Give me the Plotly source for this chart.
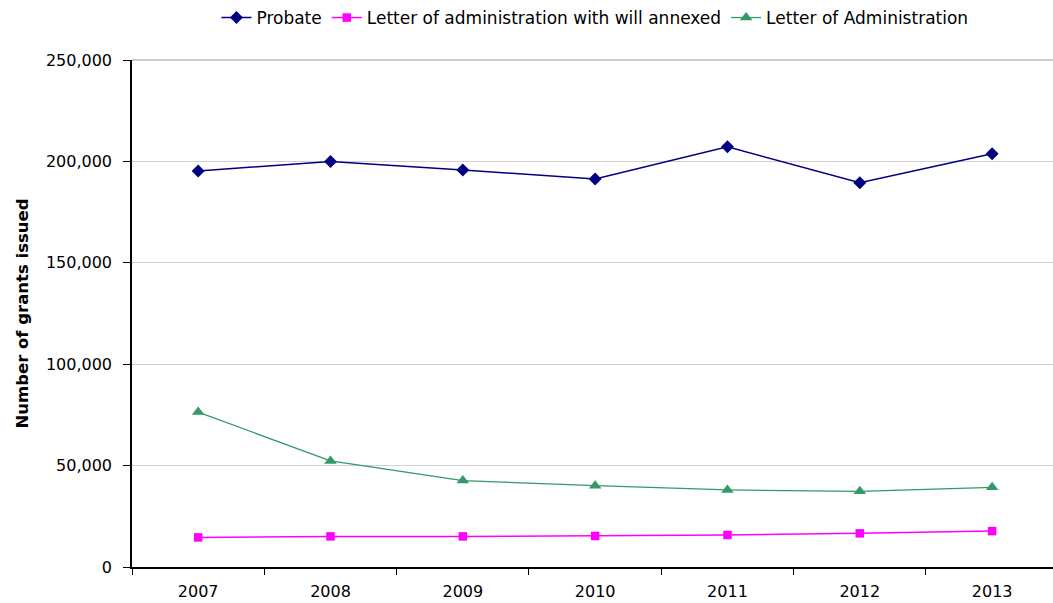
import plotly.graph_objects as go

years = ["2007", "2008", "2009", "2010", "2011", "2012", "2013"]
probate = [195300, 199900, 195800, 191300, 207200, 189500, 203800]
will_annexed = [14600, 15100, 15100, 15300, 15800, 16600, 17700]
letter_admin = [76400, 52300, 42600, 40100, 38000, 37300, 39300]

FONT = "DejaVu Sans, Arial, sans-serif"

fig = go.Figure()
fig.add_trace(go.Scatter(
    x=years, y=probate, name="Probate", mode="lines+markers",
    line=dict(color="#000080", width=1.5),
    marker=dict(symbol="diamond", size=10, color="#000080"),
))
fig.add_trace(go.Scatter(
    x=years, y=will_annexed, name="Letter of administration with will annexed",
    mode="lines+markers",
    line=dict(color="#FF00FF", width=1.5),
    marker=dict(symbol="square", size=8.5, color="#FF00FF"),
))
fig.add_trace(go.Scatter(
    x=years, y=letter_admin, name="Letter of Administration", mode="lines+markers",
    line=dict(color="#339966", width=1.3),
    marker=dict(symbol="triangle-up", size=11, color="#339966"),
))

# light top border of the plot area
fig.add_shape(type="line", xref="paper", yref="paper", x0=0, x1=1, y0=1, y1=1,
              line=dict(color="#9a9a9a", width=1.2))

fig.update_layout(
    width=1053, height=603,
    margin=dict(l=132, r=0, t=60, b=36),
    paper_bgcolor="white", plot_bgcolor="white",
    font=dict(family=FONT, size=16, color="#000000"),
    showlegend=True,
    legend=dict(
        orientation="h", xref="container", yref="container",
        x=0.565, xanchor="center", y=1.0, yanchor="top",
        font=dict(size=17), itemwidth=30,
        bgcolor="rgba(0,0,0,0)",
    ),
    xaxis=dict(
        type="category", range=[-0.5, 6.46],
        showline=True, linecolor="#000000", linewidth=1.5,
        ticks="outside", tickson="boundaries", ticklen=6, tickcolor="#000000",
        ticklabelstandoff=9,
        showgrid=False, tickfont=dict(size=16),
    ),
    yaxis=dict(
        range=[0, 250000], tickvals=[0, 50000, 100000, 150000, 200000, 250000],
        tickformat=",d",
        showline=True, linecolor="#000000", linewidth=1.5,
        ticks="outside", ticklen=7, tickcolor="#000000",
        ticklabelstandoff=8,
        showgrid=True, gridcolor="#d0d0d0", gridwidth=1,
        zeroline=False, tickfont=dict(size=16),
        title=dict(text="<b>Number of grants issued</b>", font=dict(size=16.5), standoff=13),
    ),
)

fig.write_html("out.html")
